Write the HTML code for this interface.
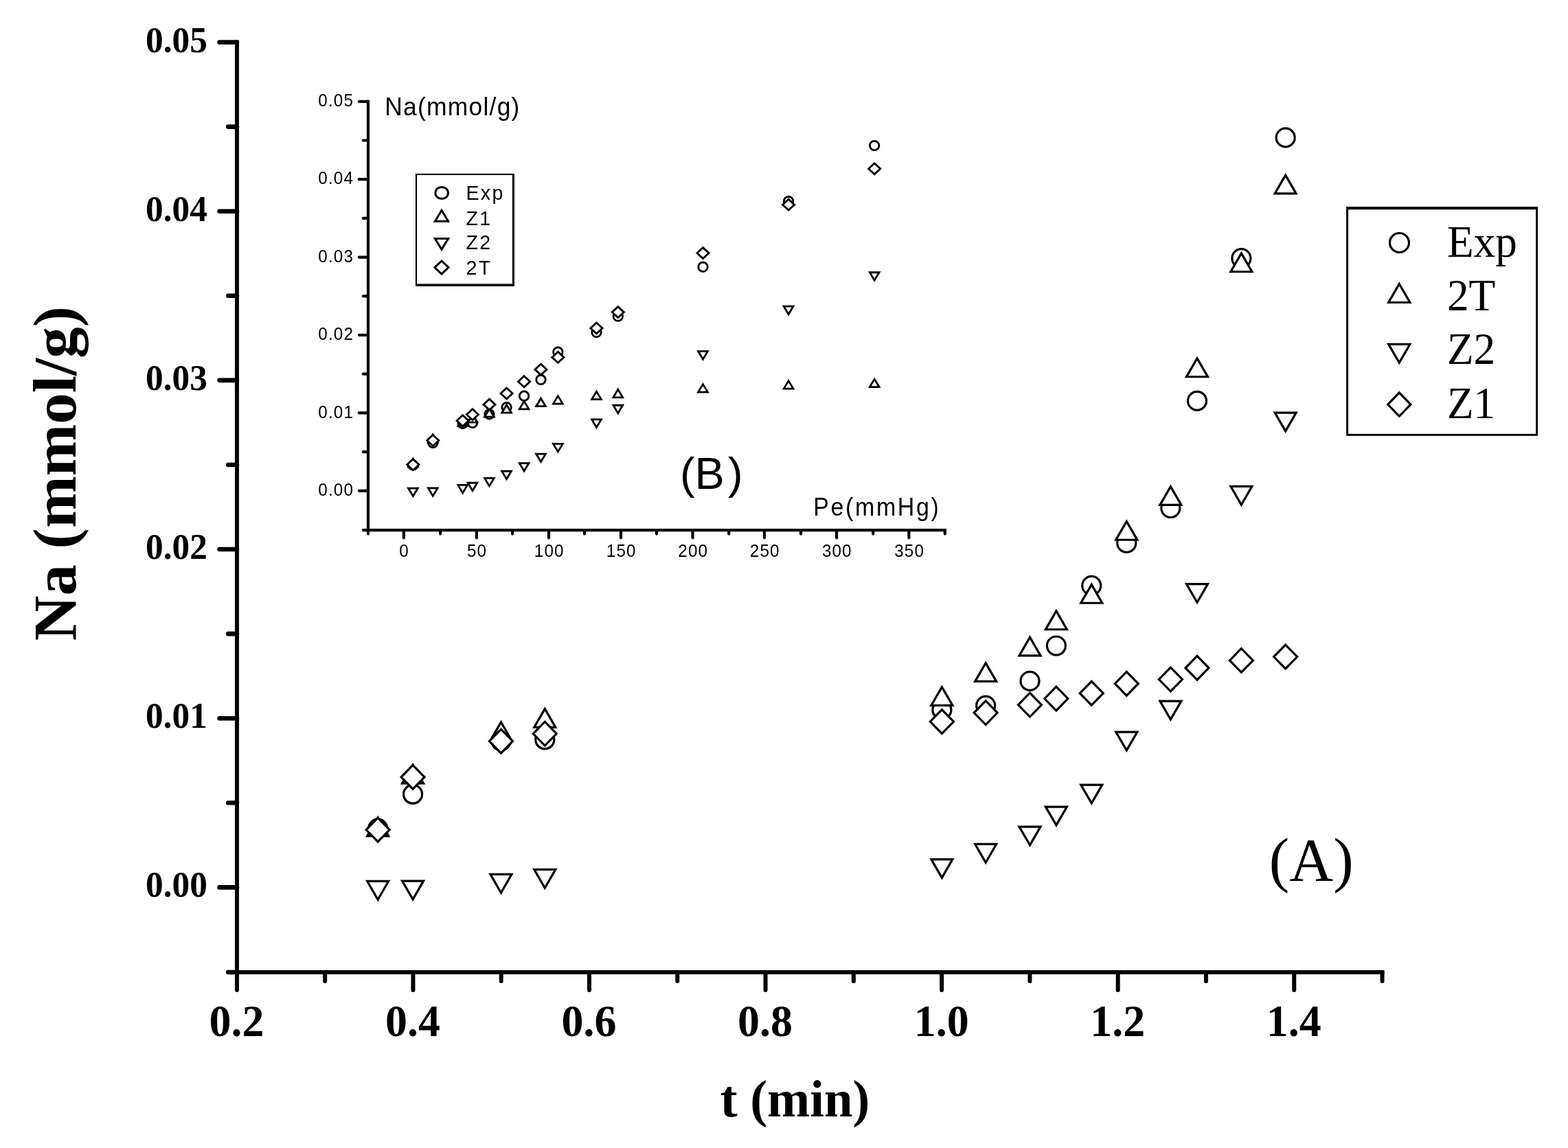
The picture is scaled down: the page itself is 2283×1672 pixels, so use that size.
<!DOCTYPE html>
<html lang="en"><head><meta charset="utf-8"><title>Na vs t</title>
<style>
html,body{margin:0;padding:0;background:#fff;}
body{width:2283px;height:1672px;overflow:hidden;}
svg{display:block;}
.ser{font-family:"Liberation Serif","DejaVu Serif",serif;}
.san{font-family:"Liberation Sans","DejaVu Sans",sans-serif;}
.b{font-weight:bold;}
.mk *{fill:#fff;stroke:#000;stroke-linejoin:miter;}
.ax{stroke:#000;fill:none;stroke-linecap:round;}
text{fill:#000;}
</style></head><body>
<svg width="2283" height="1672" viewBox="0 0 2283 1672" role="img" aria-label="Na versus t with inset Na versus Pe">
<rect width="2283" height="1672" fill="#fff"/>
<g class="ax" stroke-width="6">
<path d="M345 58.5V1419" stroke-linecap="butt"/>
<path d="M345 1416H2015.54" stroke-linecap="butt"/>
<g stroke-width="6.6">
<path d="M345 1292.4H319.6"/>
<path d="M345 1046.22H319.6"/>
<path d="M345 800.04H319.6"/>
<path d="M345 553.86H319.6"/>
<path d="M345 307.68H319.6"/>
<path d="M345 61.5H319.6"/>
<path d="M345 1416H332.3"/>
<path d="M345 1169.31H332.3"/>
<path d="M345 923.13H332.3"/>
<path d="M345 676.95H332.3"/>
<path d="M345 430.77H332.3"/>
<path d="M345 184.59H332.3"/>
</g>
<path d="M345 1416V1442"/>
<path d="M601.46 1416V1442"/>
<path d="M858.02 1416V1442"/>
<path d="M1114.58 1416V1442"/>
<path d="M1371.14 1416V1442"/>
<path d="M1627.7 1416V1442"/>
<path d="M1884.26 1416V1442"/>
<path d="M473.18 1416V1429"/>
<path d="M729.74 1416V1429"/>
<path d="M986.3 1416V1429"/>
<path d="M1242.86 1416V1429"/>
<path d="M1499.42 1416V1429"/>
<path d="M1755.98 1416V1429"/>
<path d="M2012.54 1416V1429"/>
</g>
<g class="ser b" font-size="52.2" text-anchor="end">
<text transform="translate(301.9 1306.4) scale(0.985 1)">0.00</text>
<text transform="translate(301.9 1060.22) scale(0.985 1)">0.01</text>
<text transform="translate(301.9 814.04) scale(0.985 1)">0.02</text>
<text transform="translate(301.9 567.86) scale(0.985 1)">0.03</text>
<text transform="translate(301.9 321.68) scale(0.985 1)">0.04</text>
<text transform="translate(301.9 75.5) scale(0.985 1)">0.05</text>
</g>
<g class="ser b" font-size="66" text-anchor="middle">
<text transform="translate(344.4 1508.8) scale(0.97 1)">0.2</text>
<text transform="translate(600.96 1508.8) scale(0.97 1)">0.4</text>
<text transform="translate(857.52 1508.8) scale(0.97 1)">0.6</text>
<text transform="translate(1114.08 1508.8) scale(0.97 1)">0.8</text>
<text transform="translate(1370.64 1508.8) scale(0.97 1)">1.0</text>
<text transform="translate(1627.2 1508.8) scale(0.97 1)">1.2</text>
<text transform="translate(1883.76 1508.8) scale(0.97 1)">1.4</text>
</g>
<text class="ser b" font-size="76" text-anchor="middle" transform="translate(1157.6 1626.2) scale(0.983 1)">t (min)</text>
<text class="ser b" font-size="88.7" text-anchor="middle" transform="translate(110.2 689.6) rotate(-90) scale(1.025 1)">Na (mmol/g)</text>
<text class="ser" font-size="88.5" x="1847.8" y="1281.6">(A)</text>
<g class="mk">
<circle cx="550.2" cy="1206.6" r="13.5" stroke-width="3.2"/>
<circle cx="601.1" cy="1156.7" r="13.5" stroke-width="3.2"/>
<circle cx="729.5" cy="1079.4" r="13.5" stroke-width="3.2"/>
<circle cx="793.3" cy="1077.2" r="13.5" stroke-width="3.2"/>
<circle cx="1371.4" cy="1033.8" r="13.5" stroke-width="3.2"/>
<circle cx="1435.2" cy="1027.7" r="13.5" stroke-width="3.2"/>
<circle cx="1499.5" cy="991.9" r="13.5" stroke-width="3.2"/>
<circle cx="1537.9" cy="940.5" r="13.5" stroke-width="3.2"/>
<circle cx="1589.3" cy="852.9" r="13.5" stroke-width="3.2"/>
<circle cx="1640.3" cy="790.9" r="13.5" stroke-width="3.2"/>
<circle cx="1704.4" cy="740" r="13.5" stroke-width="3.2"/>
<circle cx="1743" cy="583.9" r="13.5" stroke-width="3.2"/>
<circle cx="1807.4" cy="376.2" r="13.5" stroke-width="3.2"/>
<circle cx="1871.7" cy="200.4" r="13.5" stroke-width="3.2"/>
<path d="M550.2 1190.7L565.7 1217.55L534.7 1217.55Z" stroke-width="3.2"/>
<path d="M601.1 1114.1L616.6 1140.95L585.6 1140.95Z" stroke-width="3.2"/>
<path d="M729.5 1051.8L745 1078.65L714 1078.65Z" stroke-width="3.2"/>
<path d="M793.3 1032.4L808.8 1059.25L777.8 1059.25Z" stroke-width="3.2"/>
<path d="M1371.4 1000.6L1386.9 1027.45L1355.9 1027.45Z" stroke-width="3.2"/>
<path d="M1435.2 965.6L1450.7 992.45L1419.7 992.45Z" stroke-width="3.2"/>
<path d="M1499.5 928.1L1515 954.95L1484 954.95Z" stroke-width="3.2"/>
<path d="M1537.9 889.9L1553.4 916.75L1522.4 916.75Z" stroke-width="3.2"/>
<path d="M1589.3 851.4L1604.8 878.25L1573.8 878.25Z" stroke-width="3.2"/>
<path d="M1640.3 759.4L1655.8 786.25L1624.8 786.25Z" stroke-width="3.2"/>
<path d="M1704.4 708.6L1719.9 735.45L1688.9 735.45Z" stroke-width="3.2"/>
<path d="M1743 521.9L1758.5 548.75L1727.5 548.75Z" stroke-width="3.2"/>
<path d="M1807.4 368.9L1822.9 395.75L1791.9 395.75Z" stroke-width="3.2"/>
<path d="M1871.7 255.1L1887.2 281.95L1856.2 281.95Z" stroke-width="3.2"/>
<path d="M550.2 1310.3L565.7 1283.45L534.7 1283.45Z" stroke-width="3.2"/>
<path d="M601.1 1309.9L616.6 1283.05L585.6 1283.05Z" stroke-width="3.2"/>
<path d="M729.5 1300.2L745 1273.35L714 1273.35Z" stroke-width="3.2"/>
<path d="M793.3 1293.3L808.8 1266.45L777.8 1266.45Z" stroke-width="3.2"/>
<path d="M1371.4 1278.4L1386.9 1251.55L1355.9 1251.55Z" stroke-width="3.2"/>
<path d="M1435.2 1256.3L1450.7 1229.45L1419.7 1229.45Z" stroke-width="3.2"/>
<path d="M1499.5 1230.9L1515 1204.05L1484 1204.05Z" stroke-width="3.2"/>
<path d="M1537.9 1201.9L1553.4 1175.05L1522.4 1175.05Z" stroke-width="3.2"/>
<path d="M1589.3 1169.9L1604.8 1143.05L1573.8 1143.05Z" stroke-width="3.2"/>
<path d="M1640.3 1092.9L1655.8 1066.05L1624.8 1066.05Z" stroke-width="3.2"/>
<path d="M1704.4 1047.9L1719.9 1021.05L1688.9 1021.05Z" stroke-width="3.2"/>
<path d="M1743 877.4L1758.5 850.55L1727.5 850.55Z" stroke-width="3.2"/>
<path d="M1807.4 735.2L1822.9 708.35L1791.9 708.35Z" stroke-width="3.2"/>
<path d="M1871.7 627.9L1887.2 601.05L1856.2 601.05Z" stroke-width="3.2"/>
<path d="M550.2 1191.1L567.2 1208.5L550.2 1225.9L533.2 1208.5Z" stroke-width="3.2"/>
<path d="M601.1 1114.4L618.1 1131.8L601.1 1149.2L584.1 1131.8Z" stroke-width="3.2"/>
<path d="M729.5 1062.1L746.5 1079.5L729.5 1096.9L712.5 1079.5Z" stroke-width="3.2"/>
<path d="M793.3 1051.2L810.3 1068.6L793.3 1086L776.3 1068.6Z" stroke-width="3.2"/>
<path d="M1371.4 1033.6L1388.4 1051L1371.4 1068.4L1354.4 1051Z" stroke-width="3.2"/>
<path d="M1435.2 1020.7L1452.2 1038.1L1435.2 1055.5L1418.2 1038.1Z" stroke-width="3.2"/>
<path d="M1499.5 1009.2L1516.5 1026.6L1499.5 1044L1482.5 1026.6Z" stroke-width="3.2"/>
<path d="M1537.9 1000.1L1554.9 1017.5L1537.9 1034.9L1520.9 1017.5Z" stroke-width="3.2"/>
<path d="M1589.3 992.3L1606.3 1009.7L1589.3 1027.1L1572.3 1009.7Z" stroke-width="3.2"/>
<path d="M1640.3 978.3L1657.3 995.7L1640.3 1013.1L1623.3 995.7Z" stroke-width="3.2"/>
<path d="M1704.4 972.1L1721.4 989.5L1704.4 1006.9L1687.4 989.5Z" stroke-width="3.2"/>
<path d="M1743 955.4L1760 972.8L1743 990.2L1726 972.8Z" stroke-width="3.2"/>
<path d="M1807.4 944.5L1824.4 961.9L1807.4 979.3L1790.4 961.9Z" stroke-width="3.2"/>
<path d="M1871.7 939.1L1888.7 956.5L1871.7 973.9L1854.7 956.5Z" stroke-width="3.2"/>
</g>
<rect x="1960.1" y="301" width="278.9" height="333.8" fill="#000"/>
<rect x="1963.1" y="305.2" width="273.1" height="326.7" fill="#fff"/>
<g class="mk">
<circle cx="2037.5" cy="353.5" r="14" stroke-width="3.2"/>
<path d="M2037.3 413.5L2052.89 440.5L2021.71 440.5Z" stroke-width="3.2"/>
<path d="M2037.3 528.3L2052.89 501.3L2021.71 501.3Z" stroke-width="3.2"/>
<path d="M2037.3 571.9L2053.9 589.1L2037.3 606.3L2020.7 589.1Z" stroke-width="3.2"/>
</g>
<g class="ser" font-size="64">
<text transform="translate(2106.9 373.9) scale(0.99 1.025)">Exp</text>
<text transform="translate(2106.9 452.2) scale(0.99 1.025)">2T</text>
<text transform="translate(2106.9 530.3) scale(0.99 1.025)">Z2</text>
<text transform="translate(2106.9 608.7) scale(0.99 1.025)">Z1</text>
</g>
<g class="ax" stroke-width="4.2">
<path d="M536 145.7V774.2" stroke-linecap="butt"/>
<path d="M536 772.1H1378" stroke-linecap="butt"/>
<path d="M536 714.8H522.9"/>
<path d="M536 601.4H522.9"/>
<path d="M536 488H522.9"/>
<path d="M536 374.6H522.9"/>
<path d="M536 261.2H522.9"/>
<path d="M536 147.8H522.9"/>
<path d="M536 772.1H528.9"/>
<path d="M536 658.1H528.9"/>
<path d="M536 544.7H528.9"/>
<path d="M536 431.3H528.9"/>
<path d="M536 317.9H528.9"/>
<path d="M536 204.5H528.9"/>
<path d="M587.9 772.1V783.3"/>
<path d="M693.9 772.1V783.3"/>
<path d="M799 772.1V783.3"/>
<path d="M904 772.1V783.3"/>
<path d="M1008.5 772.1V783.3"/>
<path d="M1113 772.1V783.3"/>
<path d="M1218.1 772.1V783.3"/>
<path d="M1323.4 772.1V783.3"/>
<path d="M536 772.1V777.6"/>
<path d="M641.1 772.1V777.6"/>
<path d="M746 772.1V777.6"/>
<path d="M851 772.1V777.6"/>
<path d="M956.1 772.1V777.6"/>
<path d="M1061.2 772.1V777.6"/>
<path d="M1166 772.1V777.6"/>
<path d="M1271.3 772.1V777.6"/>
<path d="M1375.9 772.1V777.6"/>
</g>
<g class="san" font-size="24.3" text-anchor="end" letter-spacing="1.1">
<text transform="translate(515 721.9) scale(1 1.05)">0.00</text>
<text transform="translate(515 608.5) scale(1 1.05)">0.01</text>
<text transform="translate(515 495.1) scale(1 1.05)">0.02</text>
<text transform="translate(515 381.7) scale(1 1.05)">0.03</text>
<text transform="translate(515 268.3) scale(1 1.05)">0.04</text>
<text transform="translate(515 154.9) scale(1 1.05)">0.05</text>
</g>
<g class="san" font-size="24.3" text-anchor="middle" letter-spacing="1.1">
<text transform="translate(588.6 810.8) scale(1 1.05)">0</text>
<text transform="translate(694.6 810.8) scale(1 1.05)">50</text>
<text transform="translate(799.7 810.8) scale(1 1.05)">100</text>
<text transform="translate(904.7 810.8) scale(1 1.05)">150</text>
<text transform="translate(1009.2 810.8) scale(1 1.05)">200</text>
<text transform="translate(1113.7 810.8) scale(1 1.05)">250</text>
<text transform="translate(1218.8 810.8) scale(1 1.05)">300</text>
<text transform="translate(1324.1 810.8) scale(1 1.05)">350</text>
</g>
<text class="san" font-size="35.5" letter-spacing="1.2" transform="translate(560.3 167.9) scale(1 1.05)">Na(mmol/g)</text>
<text class="san" font-size="34" letter-spacing="2.6" transform="translate(1184.3 750.6) scale(1 1.075)">Pe(mmHg)</text>
<text class="san" font-size="65" x="989.9" y="712">(B<tspan dx="5.2">)</tspan></text>
<g class="mk">
<circle cx="601.4" cy="677.5" r="6.75" stroke-width="2.8"/>
<circle cx="630.3" cy="645" r="6.75" stroke-width="2.8"/>
<circle cx="673.7" cy="616.98" r="6.75" stroke-width="2.8"/>
<circle cx="688" cy="615.97" r="6.75" stroke-width="2.8"/>
<circle cx="712.5" cy="603.3" r="6.75" stroke-width="2.8"/>
<circle cx="737.6" cy="593.17" r="6.75" stroke-width="2.8"/>
<circle cx="763.1" cy="576.68" r="6.75" stroke-width="2.8"/>
<circle cx="787.5" cy="553" r="6.75" stroke-width="2.8"/>
<circle cx="812.4" cy="512.65" r="6.75" stroke-width="2.8"/>
<circle cx="868.5" cy="484.09" r="6.75" stroke-width="2.8"/>
<circle cx="899.8" cy="460.64" r="6.75" stroke-width="2.8"/>
<circle cx="1023.5" cy="388.74" r="6.75" stroke-width="2.8"/>
<circle cx="1148.1" cy="293.06" r="6.75" stroke-width="2.8"/>
<circle cx="1273.2" cy="212.08" r="6.75" stroke-width="2.8"/>
<path d="M601.4 668.19L608.28 679.67L594.52 679.67Z" stroke-width="2.8"/>
<path d="M630.3 632.86L637.18 644.34L623.42 644.34Z" stroke-width="2.8"/>
<path d="M673.7 608.77L680.58 620.25L666.82 620.25Z" stroke-width="2.8"/>
<path d="M688 603.75L694.88 615.22L681.12 615.22Z" stroke-width="2.8"/>
<path d="M712.5 595.64L719.38 607.12L705.62 607.12Z" stroke-width="2.8"/>
<path d="M737.6 589.7L744.48 601.18L730.72 601.18Z" stroke-width="2.8"/>
<path d="M763.1 584.4L769.98 595.88L756.22 595.88Z" stroke-width="2.8"/>
<path d="M787.5 580.21L794.38 591.69L780.62 591.69Z" stroke-width="2.8"/>
<path d="M812.4 576.62L819.28 588.09L805.52 588.09Z" stroke-width="2.8"/>
<path d="M868.5 570.17L875.38 581.64L861.62 581.64Z" stroke-width="2.8"/>
<path d="M899.8 567.31L906.68 578.79L892.92 578.79Z" stroke-width="2.8"/>
<path d="M1023.5 559.62L1030.38 571.1L1016.62 571.1Z" stroke-width="2.8"/>
<path d="M1148.1 554.6L1154.98 566.07L1141.22 566.07Z" stroke-width="2.8"/>
<path d="M1273.2 552.11L1280.08 563.59L1266.32 563.59Z" stroke-width="2.8"/>
<path d="M601.4 722.58L608.28 711.1L594.52 711.1Z" stroke-width="2.8"/>
<path d="M630.3 722.39L637.18 710.92L623.42 710.92Z" stroke-width="2.8"/>
<path d="M673.7 717.92L680.58 706.45L666.82 706.45Z" stroke-width="2.8"/>
<path d="M688 714.75L694.88 703.27L681.12 703.27Z" stroke-width="2.8"/>
<path d="M712.5 707.88L719.38 696.41L705.62 696.41Z" stroke-width="2.8"/>
<path d="M737.6 697.7L744.48 686.23L730.72 686.23Z" stroke-width="2.8"/>
<path d="M763.1 686L769.98 674.53L756.22 674.53Z" stroke-width="2.8"/>
<path d="M787.5 672.64L794.38 661.17L780.62 661.17Z" stroke-width="2.8"/>
<path d="M812.4 657.9L819.28 646.43L805.52 646.43Z" stroke-width="2.8"/>
<path d="M868.5 622.43L875.38 610.96L861.62 610.96Z" stroke-width="2.8"/>
<path d="M899.8 601.71L906.68 590.23L892.92 590.23Z" stroke-width="2.8"/>
<path d="M1023.5 523.17L1030.38 511.69L1016.62 511.69Z" stroke-width="2.8"/>
<path d="M1148.1 457.66L1154.98 446.19L1141.22 446.19Z" stroke-width="2.8"/>
<path d="M1273.2 408.24L1280.08 396.76L1266.32 396.76Z" stroke-width="2.8"/>
<path d="M601.4 668.7L610 676.7L601.4 684.7L592.8 676.7Z" stroke-width="2.8"/>
<path d="M630.3 633.41L638.9 641.41L630.3 649.41L621.7 641.41Z" stroke-width="2.8"/>
<path d="M673.7 604.72L682.3 612.72L673.7 620.72L665.1 612.72Z" stroke-width="2.8"/>
<path d="M688 595.78L696.6 603.78L688 611.78L679.4 603.78Z" stroke-width="2.8"/>
<path d="M712.5 581.13L721.1 589.13L712.5 597.13L703.9 589.13Z" stroke-width="2.8"/>
<path d="M737.6 565.01L746.2 573.01L737.6 581.01L729 573.01Z" stroke-width="2.8"/>
<path d="M763.1 547.73L771.7 555.73L763.1 563.73L754.5 555.73Z" stroke-width="2.8"/>
<path d="M787.5 530.14L796.1 538.14L787.5 546.14L778.9 538.14Z" stroke-width="2.8"/>
<path d="M812.4 512.4L821 520.4L812.4 528.4L803.8 520.4Z" stroke-width="2.8"/>
<path d="M868.5 470.03L877.1 478.03L868.5 486.03L859.9 478.03Z" stroke-width="2.8"/>
<path d="M899.8 446.62L908.4 454.62L899.8 462.62L891.2 454.62Z" stroke-width="2.8"/>
<path d="M1023.5 360.62L1032.1 368.62L1023.5 376.62L1014.9 368.62Z" stroke-width="2.8"/>
<path d="M1148.1 290.15L1156.7 298.15L1148.1 306.15L1139.5 298.15Z" stroke-width="2.8"/>
<path d="M1273.2 237.73L1281.8 245.73L1273.2 253.73L1264.6 245.73Z" stroke-width="2.8"/>
</g>
<rect x="605" y="252.9" width="144" height="164.1" fill="#000"/>
<rect x="607" y="255" width="138.9" height="158.4" fill="#fff"/>
<g class="mk">
<ellipse cx="643.2" cy="281" rx="9.3" ry="8.6" stroke-width="3"/>
<path d="M643 306.31L652.64 322.3L633.36 322.3Z" stroke-width="3"/>
<path d="M643 363.39L652.64 347.4L633.36 347.4Z" stroke-width="3"/>
<path d="M643 380L653.1 389.6L643 399.2L632.9 389.6Z" stroke-width="3"/>
</g>
<g class="san" font-size="28.7" letter-spacing="2.2">
<text transform="translate(678.5 291.2) scale(1 1.045)">Exp</text>
<text transform="translate(678.5 328) scale(1 1.045)">Z1</text>
<text transform="translate(678.5 363) scale(1 1.045)">Z2</text>
<text transform="translate(678.5 400) scale(1 1.045)">2T</text>
</g>
</svg>
</body></html>
